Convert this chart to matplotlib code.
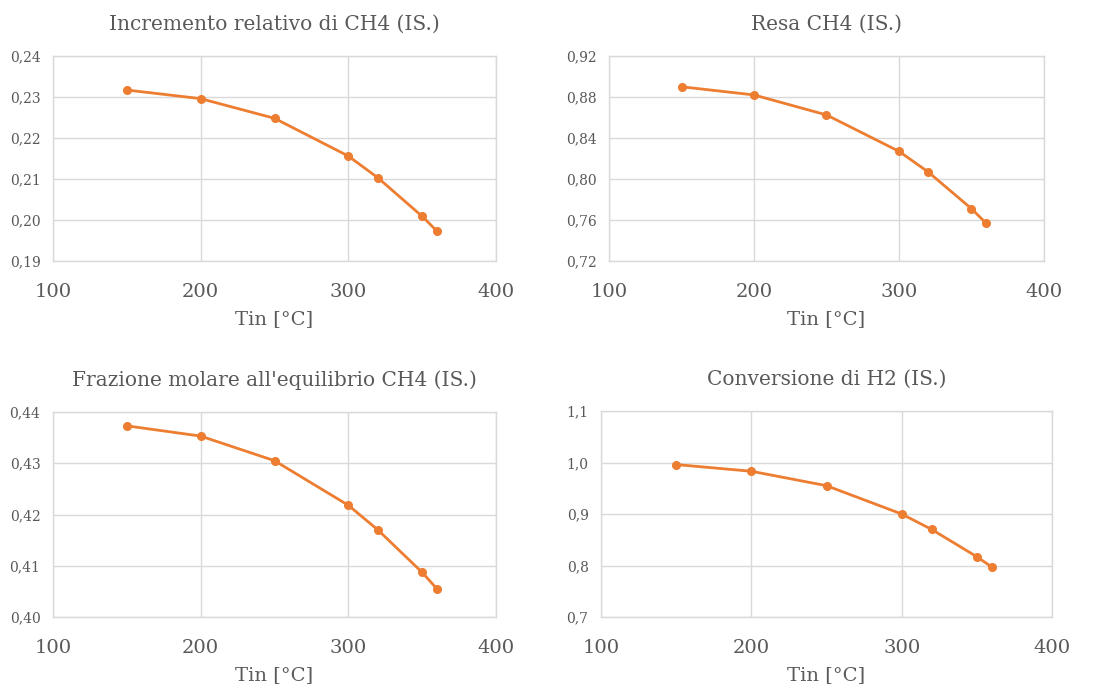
import matplotlib.pyplot as plt
from matplotlib.ticker import FuncFormatter, MultipleLocator

W, H = 1100, 690

TIN = [150, 200, 250, 300, 320, 350, 360]

INCREMENTO = [0.2317, 0.2296, 0.2248, 0.2156, 0.2103, 0.2009, 0.1973]
RESA = [0.890, 0.882, 0.8625, 0.827, 0.807, 0.771, 0.757]
FRAZIONE = [0.4373, 0.4353, 0.4305, 0.4218, 0.4170, 0.4087, 0.4055]
CONVERSIONE = [0.996, 0.983, 0.955, 0.900, 0.870, 0.817, 0.797]

TITLES = [
    "Incremento relativo di CH4 (IS.)",
    "Resa CH4 (IS.)",
    "Frazione molare all'equilibrio CH4 (IS.)",
    "Conversione di H2 (IS.)",
]
YLIMS = [(0.19, 0.24), (0.72, 0.92), (0.40, 0.44), (0.7, 1.1)]
YSTEPS = [0.01, 0.04, 0.01, 0.1]
YDEC = [2, 2, 2, 1]
XLABEL = "Tin [°C]"

ORANGE = "#ED7D31"
GRID = "#D9D9D9"
TEXT = "#595959"

plt.rcParams["font.family"] = ["DejaVu Serif"]

# axes boxes in pixels: left, top, right, bottom
BOXES = [(53, 56, 496, 261), (609, 56, 1044, 261),
         (53, 412, 496, 617), (601, 411, 1052, 617)]

fig = plt.figure(figsize=(W / 100, H / 100), dpi=100)

for series, title, ylim, step, dec, box in zip(
        [INCREMENTO, RESA, FRAZIONE, CONVERSIONE], TITLES, YLIMS, YSTEPS, YDEC, BOXES):
    l, t, r, b = box
    ax = fig.add_axes([l / W, 1 - b / H, (r - l) / W, (b - t) / H])
    ax.plot(TIN, series, color=ORANGE, lw=2, marker="o", ms=5.5, zorder=3)
    ax.set_xlim(100, 400)
    ax.set_ylim(*ylim)
    ax.xaxis.set_major_locator(MultipleLocator(100))
    ax.yaxis.set_major_locator(MultipleLocator(step))
    ax.yaxis.set_major_formatter(
        FuncFormatter(lambda v, p, d=dec: f"{v:.{d}f}".replace(".", ",")))
    ax.grid(True, color=GRID, lw=1)
    ax.set_axisbelow(True)
    for s in ax.spines.values():
        s.set_color(GRID)
        s.set_linewidth(1)
    ax.tick_params(length=0)
    ax.tick_params(axis="x", labelsize=14, labelcolor=TEXT, pad=16)
    ax.tick_params(axis="y", labelsize=10, labelcolor=TEXT, pad=9)
    ax.set_title(title, fontsize=14.5, color=TEXT, pad=19)
    ax.set_xlabel(XLABEL, fontsize=14, color=TEXT, labelpad=6)

fig.savefig("out.png", dpi=100, facecolor="white")
